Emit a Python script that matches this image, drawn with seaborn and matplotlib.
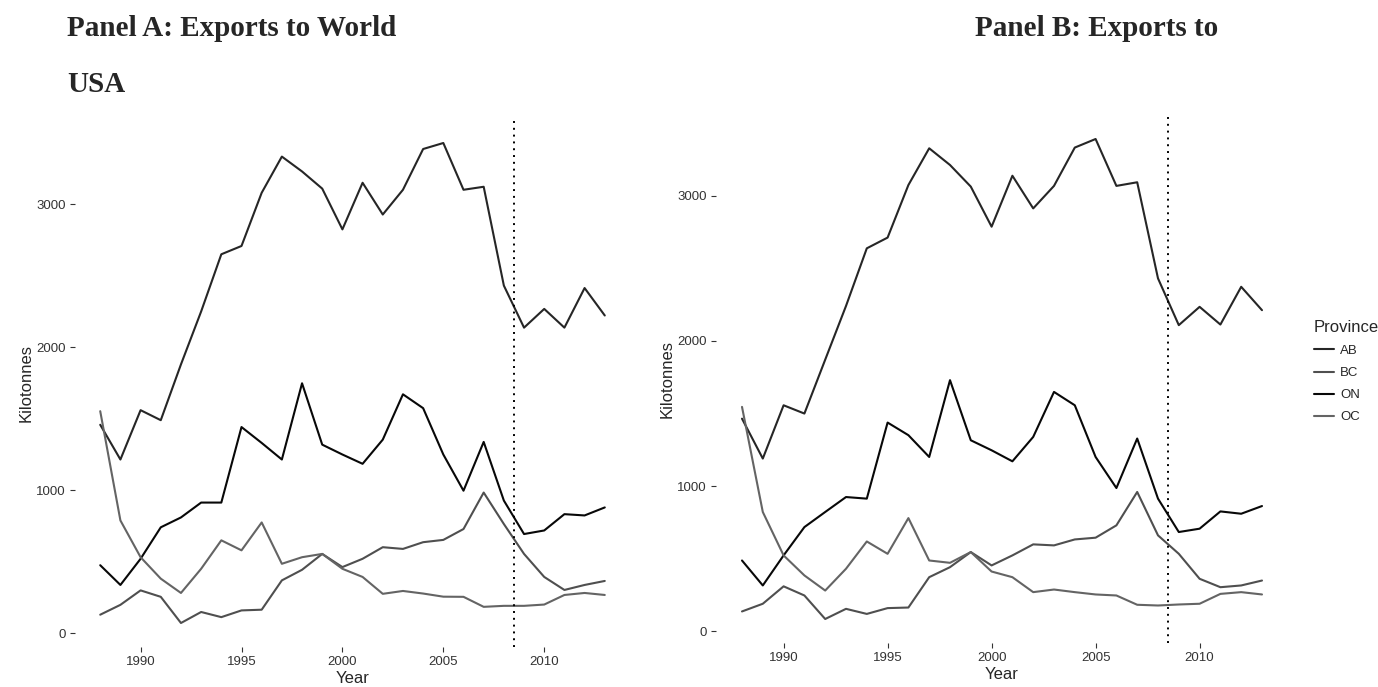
import pandas as pd
import matplotlib
matplotlib.use("Agg")
import matplotlib.pyplot as plt
import seaborn as sns

# === Data (kilotonnes) ===
years = [1988, 1989, 1990, 1991, 1992, 1993, 1994, 1995, 1996, 1997, 1998, 1999, 2000,
         2001, 2002, 2003, 2004, 2005, 2006, 2007, 2008, 2009, 2010, 2011, 2012, 2013]
provinces = ["AB", "BC", "ON", "QC"]
legend_labels = ["AB", "BC", "ON", "OC"]

# Panel A: exports to world
ab_world = [1458, 1215, 1560, 1490, 1880, 2250, 2650, 2708, 3080, 3333, 3229, 3109, 2824,
            3150, 2928, 3101, 3386, 3428, 3101, 3122, 2431, 2137, 2268, 2137, 2414, 2222]
bc_world = [130, 199, 300, 255, 72, 149, 113, 160, 165, 370, 444, 555, 463,
            521, 602, 590, 637, 653, 729, 984, 764, 555, 394, 303, 338, 366]
on_world = [476, 338, 521, 741, 810, 914, 914, 1442, 1331, 1215, 1748, 1319, 1250,
            1185, 1354, 1671, 1574, 1250, 997, 1338, 928, 694, 719, 833, 824, 880]
qc_world = [1553, 789, 532, 382, 282, 451, 650, 580, 775, 486, 532, 555, 451,
            394, 276, 296, 278, 256, 255, 185, 192, 192, 201, 268, 282, 268]

# Panel B: exports to USA
ab_usa = [1464, 1189, 1556, 1499, 1870, 2240, 2637, 2711, 3073, 3326, 3211, 3062, 2786,
          3137, 2912, 3067, 3331, 3390, 3067, 3092, 2430, 2108, 2234, 2112, 2372, 2211]
bc_usa = [136, 189, 309, 246, 84, 154, 119, 159, 163, 372, 441, 545, 453,
          522, 598, 591, 632, 644, 729, 959, 660, 533, 361, 303, 315, 349]
on_usa = [487, 315, 522, 717, 821, 924, 913, 1437, 1350, 1200, 1729, 1315, 1246,
          1170, 1338, 1648, 1556, 1200, 986, 1327, 913, 683, 706, 825, 809, 862]
qc_usa = [1545, 821, 522, 384, 280, 430, 618, 533, 779, 487, 471, 545, 411,
          372, 269, 287, 269, 253, 246, 182, 177, 184, 189, 257, 269, 253]

recession_year = 2008.5
palette = {"AB": "#262626", "BC": "#4f4f4f", "ON": "#080808", "QC": "#646464"}


def to_long(ab, bc, on, qc):
    frames = []
    for prov, vals in zip(provinces, [ab, bc, on, qc]):
        frames.append(pd.DataFrame({"Year": years, "Kilotonnes": vals, "Province": prov}))
    return pd.concat(frames, ignore_index=True)


df_world = to_long(ab_world, bc_world, on_world, qc_world)
df_usa = to_long(ab_usa, bc_usa, on_usa, qc_usa)

# === Style ===
sns.set_style("white")
plt.rcParams["font.family"] = ["Liberation Sans", "DejaVu Sans"]

W, H = 1378, 687
fig = plt.figure(figsize=(W / 100, H / 100), dpi=100)
ax_a = fig.add_axes([75 / W, 1 - 647 / H, 555 / W, 528 / H])
ax_b = fig.add_axes([716 / W, 1 - 643 / H, 572 / W, 528 / H])

for ax, df in [(ax_a, df_world), (ax_b, df_usa)]:
    sns.lineplot(data=df, x="Year", y="Kilotonnes", hue="Province",
                 hue_order=provinces, palette=palette, linewidth=1.5, ax=ax)
    ax.axvline(recession_year, color="black", linestyle=(0, (1, 2.5)), linewidth=1.4)
    ax.margins(x=0.05, y=0.05)
    ax.set_xticks([1990, 1995, 2000, 2005, 2010])
    ax.set_yticks([0, 1000, 2000, 3000])
    for s in ax.spines.values():
        s.set_visible(False)
    ax.tick_params(axis="both", length=3.5, width=0.8, color="#333333",
                   labelsize=9.5, labelcolor="#333333", pad=3,
                   bottom=True, left=True)
    ax.set_xlabel("Year", fontsize=12, labelpad=2)
    ax.set_ylabel("Kilotonnes", fontsize=12, labelpad=2)
    ax.get_legend().remove()

# === Legend ===
handles, _ = ax_b.get_legend_handles_labels()
leg = fig.legend(handles[:4], legend_labels, title="Province", frameon=False,
                 loc="upper left", bbox_to_anchor=(1302 / W, 1 - 308 / H),
                 fontsize=9.5, title_fontsize=12, handlelength=1.5,
                 handletextpad=0.5, labelspacing=0.75)
leg._legend_box.align = "left"

# === Titles ===
title_kw = dict(fontfamily=["Liberation Serif", "DejaVu Serif"], fontweight="bold",
                fontsize=21, va="center", ha="left")
fig.text(67 / W, 1 - 28 / H, "Panel A: Exports to World", **title_kw)
fig.text(67 / W, 1 - 84 / H, "USA", **title_kw)
fig.text(975 / W, 1 - 28 / H, "Panel B: Exports to", **title_kw)

fig.savefig("out.png", dpi=100)
plt.close(fig)
